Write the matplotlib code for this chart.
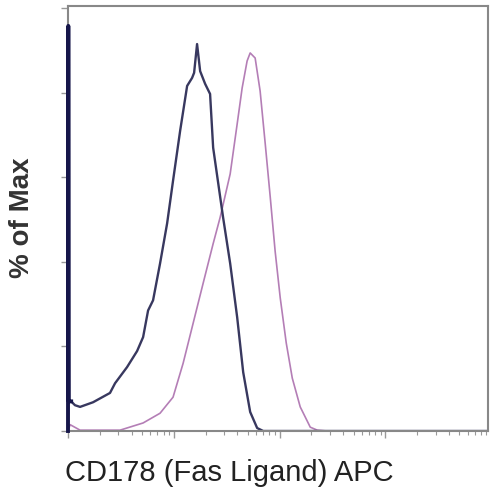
import matplotlib
matplotlib.use("Agg")
import matplotlib.pyplot as plt
from matplotlib.ticker import FixedLocator, NullFormatter, LogLocator
import numpy as np

plt.rcParams["font.family"] = ["Liberation Sans", "DejaVu Sans"]

# log10 of APC intensity, % of max
spike_log = [0.0, 0.003, 0.008, 0.03]
spike_pct = [0.0, 95.8, 7.0, 7.0]

blue_log = [0.03, 0.066, 0.114, 0.237, 0.397, 0.445, 0.558, 0.653, 0.710, 0.757,
            0.804, 0.870, 0.937, 0.993, 1.060, 1.126, 1.173, 1.192, 1.220, 1.249,
            1.296, 1.343, 1.372, 1.466, 1.533, 1.599, 1.656, 1.722, 1.788, 1.845, 3.97]
blue_pct = [7.0, 6.1, 5.7, 6.8, 9.0, 11.3, 15.1, 18.9, 22.2, 28.5,
            30.9, 39.6, 49.1, 59.2, 71.0, 81.6, 83.5, 84.7, 91.5, 85.1,
            82.1, 79.7, 67.0, 50.5, 39.6, 26.9, 13.9, 4.5, 0.7, 0.0, 0.0]

pink_log = [0.0, 0.02, 0.114, 0.492, 0.710, 0.870, 0.993, 1.088, 1.183, 1.277,
            1.372, 1.438, 1.533, 1.599, 1.646, 1.693, 1.722, 1.769, 1.816, 1.864,
            1.911, 1.958, 2.006, 2.063, 2.120, 2.195, 2.290, 2.356, 2.45, 3.97]
pink_pct = [0.0, 1.5, 0.2, 0.2, 1.9, 4.2, 8.0, 16.0, 25.5, 34.9,
            44.3, 50.5, 60.8, 72.6, 81.1, 87.5, 89.4, 88.2, 80.4, 68.0,
            55.5, 42.5, 31.5, 20.8, 12.5, 5.7, 0.9, 0.2, 0.0, 0.0]

x_max_log = 3.97

fig = plt.figure(figsize=(4.93, 4.95), dpi=100)
ax = fig.add_axes([68 / 493, 1 - 431 / 495, 420 / 493, 425 / 495])

ax.plot(10 ** np.array(pink_log), pink_pct, color="#b47eb6", linewidth=1.2)
ax.plot(10 ** np.array(blue_log), blue_pct, color="#38385f", linewidth=1.7)
ax.plot(10 ** np.array(spike_log), spike_pct, color="#16164a", linewidth=2.8,
        clip_on=False, zorder=3)

ax.set_xscale("log")
ax.set_xlim(1, 10 ** x_max_log)
ax.set_ylim(0, 100.5)

ax.xaxis.set_major_locator(FixedLocator([1, 10, 100, 1000]))
ax.xaxis.set_minor_locator(LogLocator(base=10, subs=np.arange(2, 10)))
ax.xaxis.set_major_formatter(NullFormatter())
ax.xaxis.set_minor_formatter(NullFormatter())
ax.set_yticks([0, 20, 40, 60, 80, 100])
ax.set_yticklabels([])

ax.tick_params(axis="both", which="major", length=5, width=1, color="#999999", direction="out")
ax.tick_params(axis="x", which="minor", length=3, width=0.8, color="#999999", direction="out")
for s in ax.spines.values():
    s.set_color("#888888")
    s.set_linewidth(1.5)

fig.text(65 / 493, 1 - 481 / 495, "CD178 (Fas Ligand) APC", fontsize=21, color="#222222",
         ha="left", va="baseline")
fig.text(22 / 493, 1 - 218 / 495, "% of Max", fontsize=20, fontweight="bold", color="#333333",
         rotation=90, ha="center", va="center")

plt.savefig("out.png", dpi=100)
